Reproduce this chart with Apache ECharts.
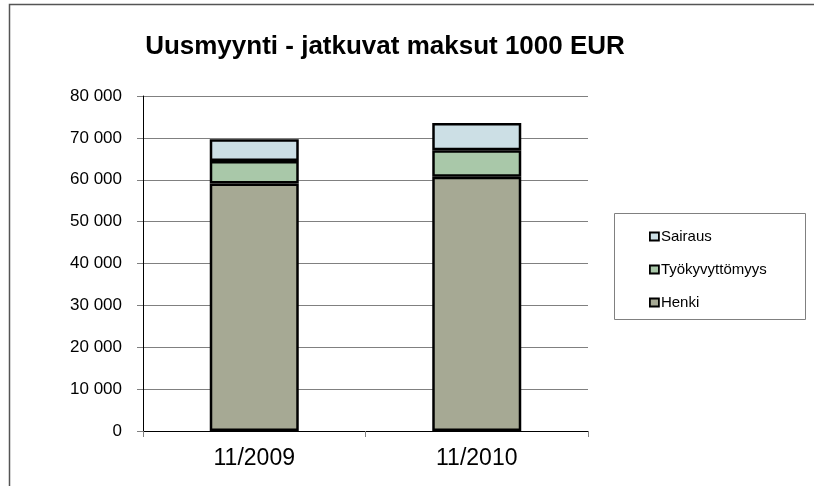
<!DOCTYPE html>
<html>
<head>
<meta charset="utf-8">
<script src="https://cdn.jsdelivr.net/npm/echarts@6/dist/echarts.min.js"></script>
<style>html,body{margin:0;padding:0;background:#fff;}#c{width:814px;height:486px;}</style>
</head>
<body>
<div id="c"></div>
<script>
const categories = ['11/2009', '11/2010'];
const henki = [59100, 60700];
const tyokyvyttomyys = [5350, 6370];
const sairaus = [5240, 6500];
const legendOrder = ['Sairaus', 'Työkyvyttömyys', 'Henki'];

const chart = echarts.init(document.getElementById('c'), null, {renderer: 'canvas'});
const font = 'Arial, "Liberation Sans", sans-serif';
const barStyle = (c) => ({color: c, borderColor: '#000', borderWidth: 2.5});
chart.setOption({
  animation: false,
  backgroundColor: '#fff',
  title: {
    text: 'Uusmyynti - jatkuvat maksut 1000 EUR',
    left: 380, top: 29, textAlign: 'center',
    textStyle: {fontFamily: font, fontSize: 26, fontWeight: 'bold', color: '#000'}
  },
  grid: {left: 143, right: 226, top: 96, bottom: 55, containLabel: false},
  xAxis: {
    type: 'category', data: categories,
    axisLine: {lineStyle: {color: '#000', width: 1}},
    axisTick: {show: true, length: 6, lineStyle: {color: '#808080'}},
    axisLabel: {fontFamily: font, fontSize: 23, color: '#000', margin: 16},
    splitLine: {show: false}
  },
  yAxis: {
    type: 'value', min: 0, max: 80000, interval: 10000,
    axisLine: {show: true, lineStyle: {color: '#000', width: 1}},
    axisTick: {show: true, length: 6, lineStyle: {color: '#808080'}},
    axisLabel: {
      fontFamily: font, fontSize: 17, color: '#000', margin: 21,
      formatter: v => String(v).replace(/\B(?=(\d{3})+(?!\d))/g, ' ')
    },
    splitLine: {show: true, lineStyle: {color: '#808080', width: 1}}
  },
  legend: {
    orient: 'vertical', left: 644, top: 224,
    data: legendOrder,
    icon: 'rect', itemWidth: 9, itemHeight: 8, itemGap: 18,
    itemStyle: {borderColor: '#000', borderWidth: 1.8},
    textStyle: {fontFamily: font, fontSize: 15, color: '#000', padding: [0,0,0,-3]}
  },
  graphic: [
    {type: 'rect', shape: {x: 614.5, y: 213.5, width: 191, height: 106}, style: {fill: 'none', stroke: '#808080', lineWidth: 1}, silent: true, z: -1},
    {type: 'polyline', shape: {points: [[9.5, 486], [9.5, 4.5], [814, 4.5]]}, style: {fill: 'none', stroke: '#555', lineWidth: 1.5}, silent: true}
  ],
  series: [
    {name: 'Henki', type: 'bar', stack: 's', data: henki, barWidth: 89, itemStyle: barStyle('#A6A994')},
    {name: 'Työkyvyttömyys', type: 'bar', stack: 's', data: tyokyvyttomyys, barWidth: 89, itemStyle: barStyle('#A9C8A9')},
    {name: 'Sairaus', type: 'bar', stack: 's', data: sairaus, barWidth: 89, itemStyle: barStyle('#CCDFE5')}
  ]
});
</script>
</body>
</html>
